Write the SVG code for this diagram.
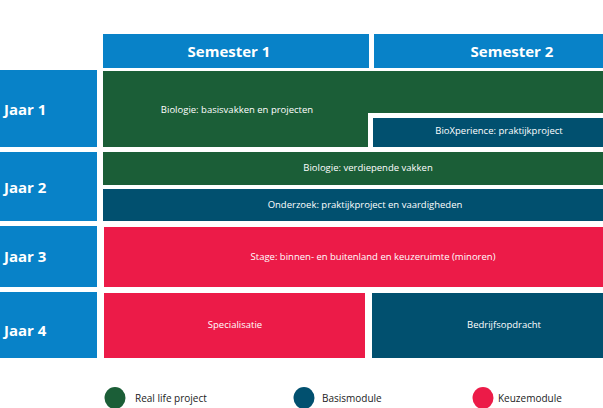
<svg xmlns="http://www.w3.org/2000/svg" width="603" height="408" viewBox="0 0 603 408">
<style>
.b{fill:#0882c8}.g{fill:#1b5e37}.d{fill:#01506f}.r{fill:#ec1b48}
.h{font-family:"Open Sans","Liberation Sans",sans-serif;font-weight:bold;fill:#fff;font-size:15px}
.t{font-family:"Open Sans","Liberation Sans",sans-serif;fill:#fff;font-size:9.5px;text-anchor:middle}
.l{font-family:"Open Sans","Liberation Sans",sans-serif;fill:#222;font-size:10px}
</style>
<rect width="603" height="408" fill="#fff"/>
<g id="sem1"><rect class="b" x="103" y="34" width="266" height="34"/><text class="h" x="229" y="57" text-anchor="middle">Semester 1</text></g>
<g id="sem2"><rect class="b" x="374" y="34" width="229" height="34"/><text class="h" x="512" y="57" text-anchor="middle">Semester 2</text></g>
<g id="jaar1"><rect class="b" x="0" y="70" width="97" height="77"/><text class="h" x="4" y="115">Jaar 1</text></g>
<g id="jaar2"><rect class="b" x="0" y="152" width="97" height="69"/><text class="h" x="4" y="193">Jaar 2</text></g>
<g id="jaar3"><rect class="b" x="0" y="226" width="97" height="61"/><text class="h" x="4" y="262">Jaar 3</text></g>
<g id="jaar4"><rect class="b" x="0" y="292" width="97" height="66"/><text class="h" x="4" y="336">Jaar 4</text></g>
<g id="bio1"><path class="g" d="M103 71H603V113H368V147H103Z"/><text class="t" x="237" y="113">Biologie: basisvakken en projecten</text></g>
<g id="biox"><rect class="d" x="373" y="118" width="230" height="29"/><text class="t" x="499" y="134">BioXperience: praktijkproject</text></g>
<g id="bio2"><rect class="g" x="103" y="152" width="500" height="33"/><text class="t" x="368" y="171">Biologie: verdiepende vakken</text></g>
<g id="onderzoek"><rect class="d" x="103" y="189" width="500" height="32"/><text class="t" x="365" y="208">Onderzoek: praktijkproject en vaardigheden</text></g>
<g id="stage"><rect class="r" x="104" y="227" width="499" height="60"/><text class="t" x="373" y="260">Stage: binnen- en buitenland en keuzeruimte (minoren)</text></g>
<g id="spec"><rect class="r" x="104" y="293" width="261" height="65"/><text class="t" x="235" y="328">Specialisatie</text></g>
<g id="bedrijf"><rect class="d" x="372" y="293" width="231" height="65"/><text class="t" x="504" y="328">Bedrijfsopdracht</text></g>
<g id="legend">
<ellipse class="g" cx="115" cy="398" rx="10.5" ry="11"/><text class="l" x="135" y="402">Real life project</text>
<ellipse class="d" cx="304" cy="398" rx="10.5" ry="11"/><text class="l" x="322" y="402">Basismodule</text>
<ellipse class="r" cx="483" cy="398" rx="10.5" ry="11"/><text class="l" x="498" y="402">Keuzemodule</text>
</g>
<g id="connectors"/>
</svg>
